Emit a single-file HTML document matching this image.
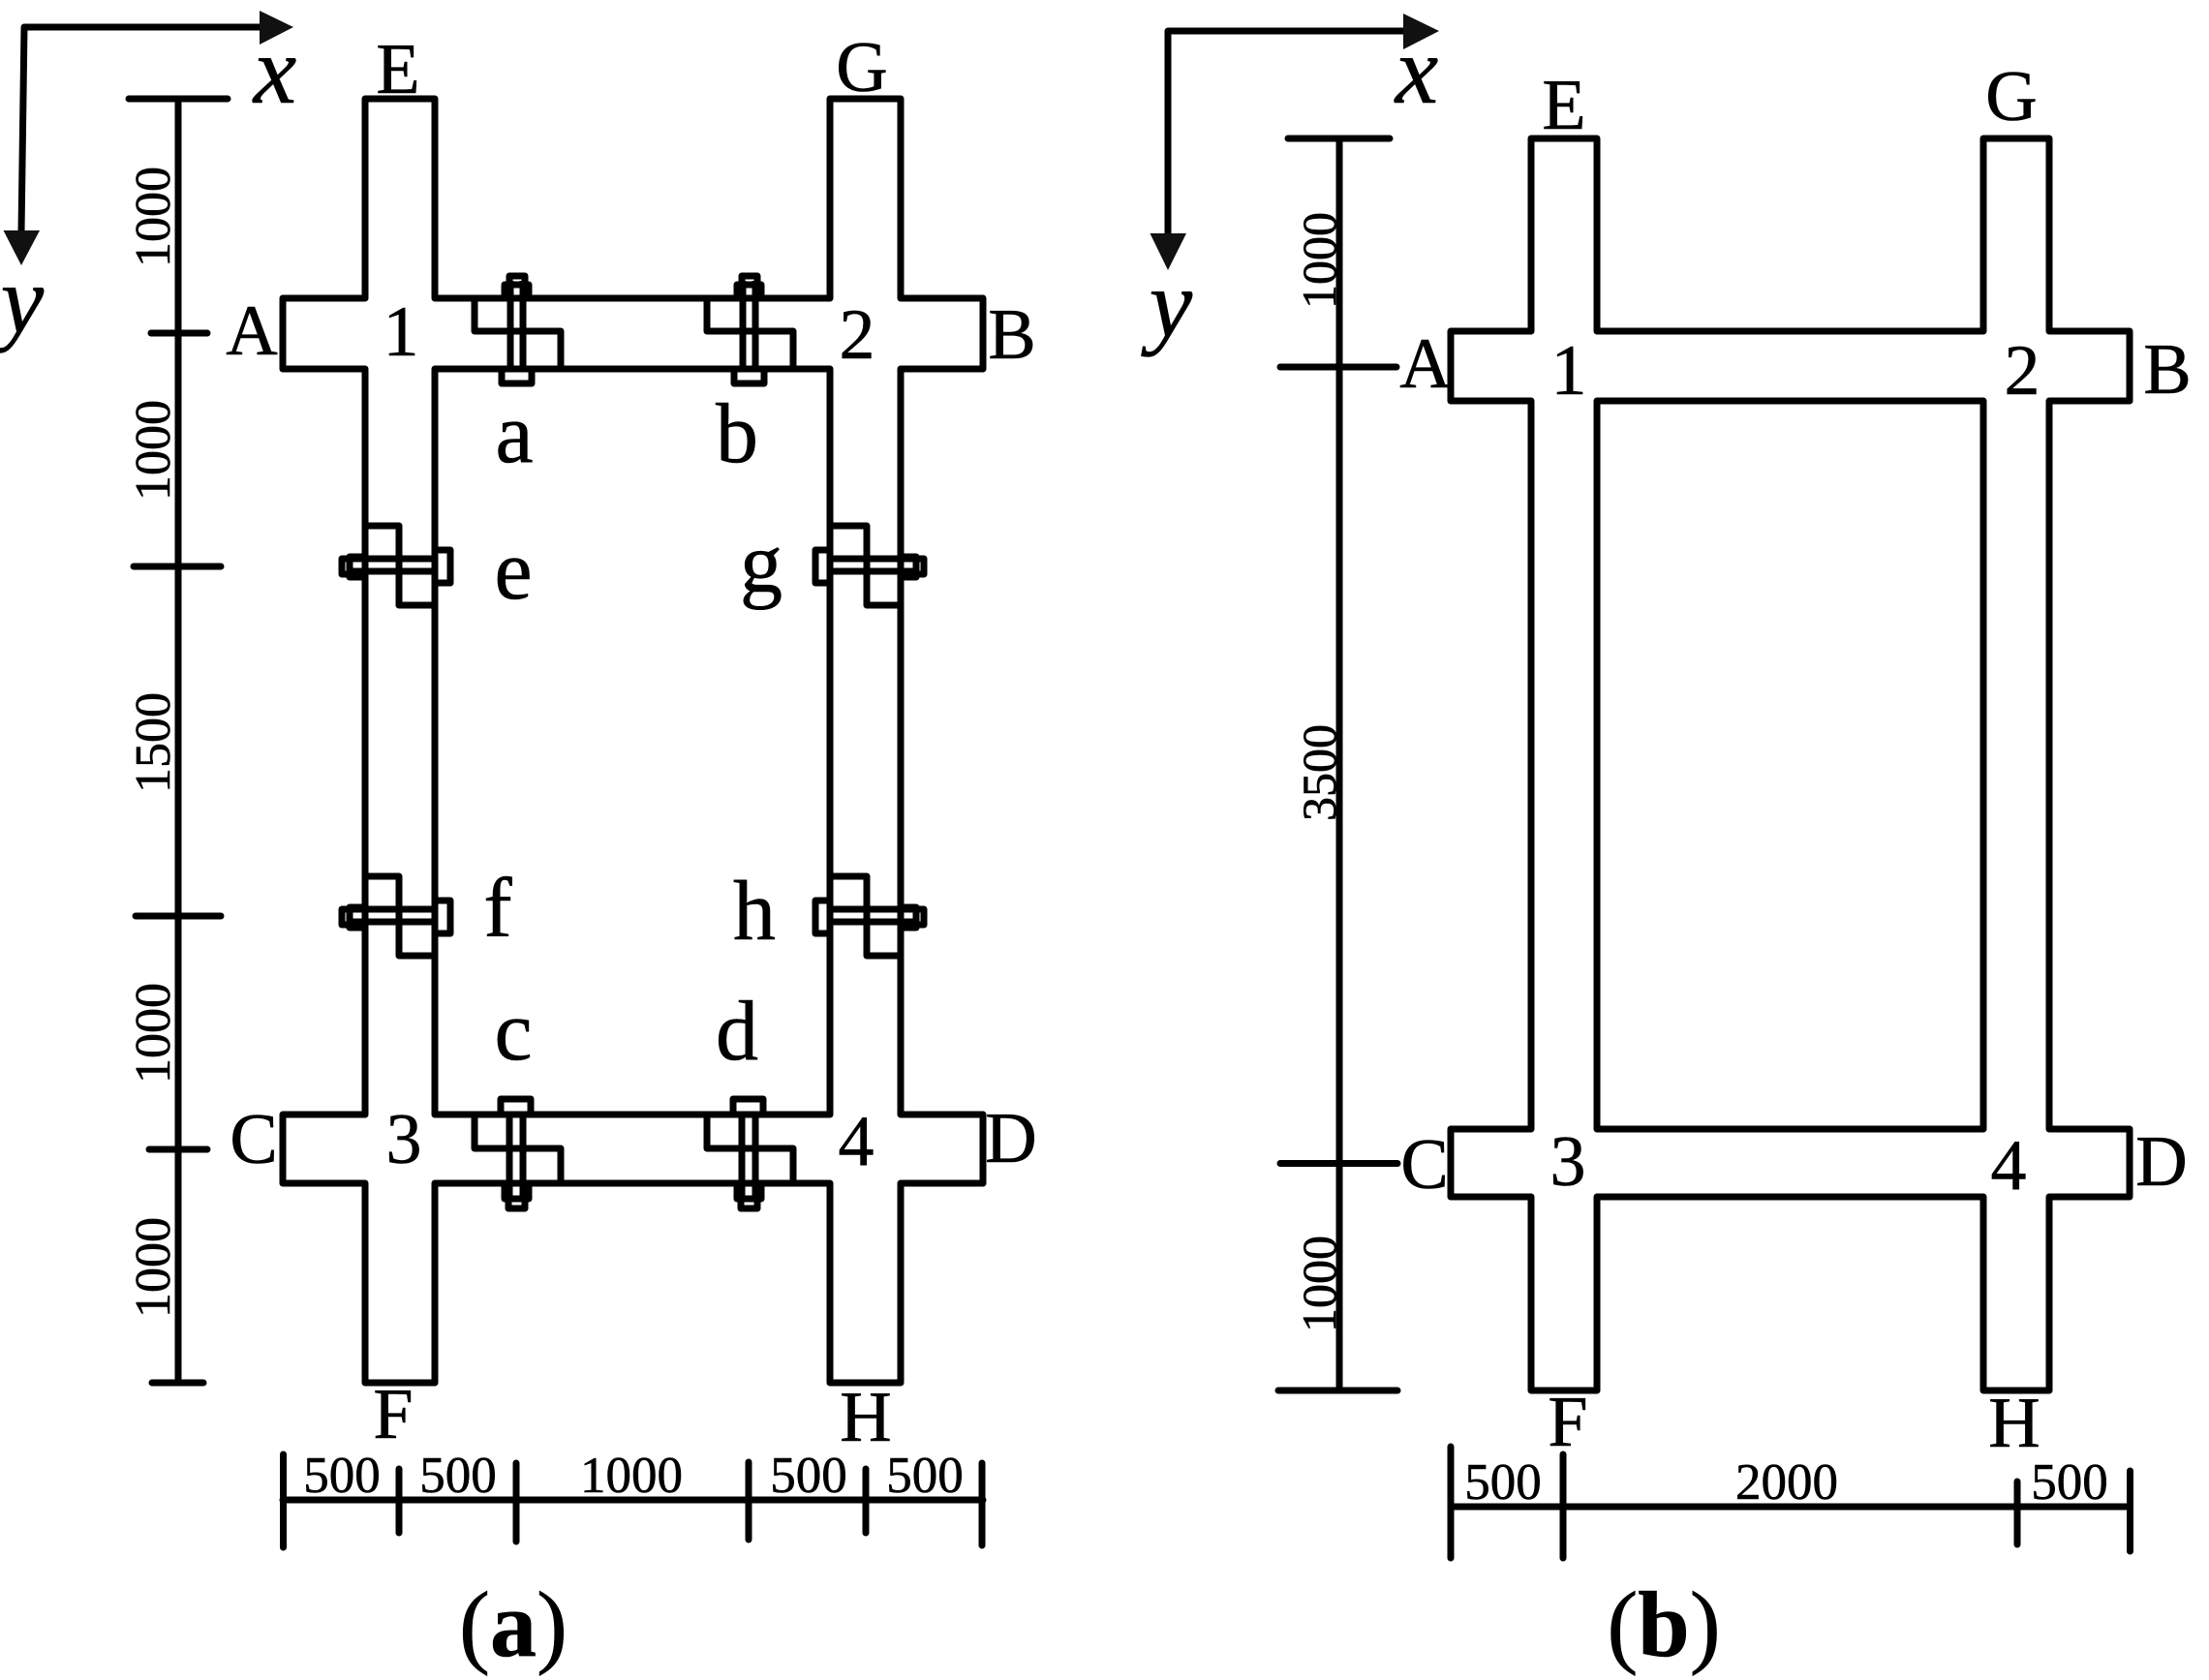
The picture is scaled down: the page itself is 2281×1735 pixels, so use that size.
<!DOCTYPE html>
<html><head><meta charset="utf-8"><title>Diagram</title>
<style>
html,body{margin:0;padding:0;background:#fff;width:2281px;height:1735px;overflow:hidden}
svg{display:block}
text{font-family:"Liberation Serif",serif;fill:#000;text-anchor:middle;stroke:#000;stroke-width:.6}
.l{font-size:74px}.s{font-size:88px}.d{font-size:53px}.v{font-size:52px}.w{font-size:50px}
.i{font-size:100px;font-style:italic}.c{font-size:96px}.c tspan{font-weight:bold}
.ln{fill:none;stroke:#000;stroke-width:7;stroke-linejoin:round}
.ar{fill:#111;stroke:none}
</style></head><body>
<svg width="2281" height="1735" viewBox="0 0 2281 1735" xmlns="http://www.w3.org/2000/svg">
<defs>
<g id="bt" class="ln"><path d="M490 308V342H579V381"/><path d="M527 290V381M540 290V381"/><path d="M518 381V396H549V381"/><path d="M521 308V294H546V308"/><path d="M526 292V285H542V292"/></g>
<g id="bb" class="ln"><path d="M490 1151V1186H579V1222"/><path d="M526 1151V1240M540 1151V1240"/><path d="M517 1151V1135H548V1151"/><path d="M521 1222V1238H546V1222"/><path d="M525 1240V1248H542V1240"/></g>
<g id="se" class="ln"><path d="M377 543H412V625H449"/><path d="M358 577H449M358 590H449"/><path d="M449 568H465V602H449"/><path d="M377 575H361V596H377"/><path d="M360 577H353V593H360"/></g>
<g id="sg" class="ln"><path d="M857 543H895V625H930"/><path d="M857 577H948M857 590H948"/><path d="M857 568H842V602H857"/><path d="M930 575H946V596H930"/><path d="M947 577H954V593H947"/></g>
</defs>

<!-- Panel a outline -->
<path class="ln" d="M377 102H449V308H857V102H930V308H1015V381H930V1151H1015V1222H930V1428H857V1222H449V1428H377V1222H292V1151H377V381H292V308H377Z"/>
<path class="ln" d="M449 381H857V1151H449Z"/>
<use href="#bt"/><use href="#bt" transform="translate(240 0)"/>
<use href="#bb"/><use href="#bb" transform="translate(240 0)"/>
<use href="#se"/><use href="#se" transform="translate(0 362)"/>
<use href="#sg"/><use href="#sg" transform="translate(0 362)"/>

<!-- Axes a -->
<path class="ln" d="M22 240L25 28H272"/>
<path class="ar" d="M268 11L303 28L268 46Z"/>
<path class="ar" d="M3.500 238H41L22 274Z"/>

<!-- Dim a vertical -->
<path class="ln" stroke-linecap="round" d="M184 102V1428M133 102H235M156 344H214M138 585H228M140 946H228M154 1187H214M157 1428H210"/>
<!-- Dim a horizontal -->
<path class="ln" stroke-linecap="round" d="M292 1549H1015M292.500 1502V1598M412 1517V1583M533 1511V1592M773 1510V1590M894 1517V1583M1014 1511V1596"/>

<!-- Panel a labels -->
<text class="l" x="411" y="96">E</text>
<text class="l" x="890" y="94">G</text>
<text class="i" x="284" y="106">x</text>
<text class="i" x="23" y="343">y</text>
<text class="l" x="260" y="366">A</text>
<text class="l" x="414" y="367">1</text>
<text class="l" x="885" y="370">2</text>
<text class="l" x="1045" y="370">B</text>
<text class="s" x="531" y="477">a</text>
<text class="s" x="761" y="477">b</text>
<text class="s" x="530" y="618">e</text>
<text class="s" x="786" y="611">g</text>
<text class="s" x="514" y="967">f</text>
<text class="s" x="779" y="970">h</text>
<text class="s" x="530" y="1094">c</text>
<text class="s" x="761" y="1094">d</text>
<text class="l" x="262" y="1201">C</text>
<text class="l" x="417" y="1201">3</text>
<text class="l" x="884" y="1203">4</text>
<text class="l" x="1044" y="1200">D</text>
<text class="l" x="406" y="1485">F</text>
<text class="l" x="894" y="1488">H</text>
<text class="d" x="353" y="1541">500</text>
<text class="d" x="473" y="1541">500</text>
<text class="d" x="652" y="1541">1000</text>
<text class="d" x="835" y="1541">500</text>
<text class="d" x="955" y="1541">500</text>
<text class="v" transform="translate(175 224) rotate(-90)">1000</text>
<text class="v" transform="translate(175 465) rotate(-90)">1000</text>
<text class="v" transform="translate(175 767) rotate(-90)">1500</text>
<text class="v" transform="translate(175 1067) rotate(-90)">1000</text>
<text class="v" transform="translate(175 1309) rotate(-90)">1000</text>
<text class="c" x="530" y="1710">(<tspan>a</tspan>)</text>

<!-- Panel b outline -->
<path class="ln" d="M1581 143H1649V342H2048V143H2116V342H2199V414H2116V1166H2199V1236H2116V1436H2048V1236H1649V1436H1581V1236H1498V1166H1581V414H1498V342H1581Z"/>
<path class="ln" d="M1649 414H2048V1166H1649Z"/>

<!-- Axes b -->
<path class="ln" d="M1206 245V32H1452"/>
<path class="ar" d="M1449 14L1486 32L1449 51Z"/>
<path class="ar" d="M1187.500 241H1225L1206 279Z"/>

<!-- Dim b vertical -->
<path class="ln" stroke-linecap="round" d="M1383 143V1436M1330 143H1435M1322 379H1442M1322 1201.500H1443M1320 1436H1443"/>
<!-- Dim b horizontal -->
<path class="ln" stroke-linecap="round" d="M1498 1556H2199M1498 1494V1609M1614 1502V1609M2083 1530V1595M2199.500 1519V1602"/>

<!-- Panel b labels -->
<text class="l" x="1615" y="133">E</text>
<text class="l" x="2077" y="124">G</text>
<text class="i" x="1463" y="106">x</text>
<text class="i" x="1209" y="347">y</text>
<text class="l" x="1472" y="400">A</text>
<text class="l" x="1620" y="407">1</text>
<text class="l" x="2088" y="407">2</text>
<text class="l" x="2238" y="406">B</text>
<text class="l" x="1471" y="1227">C</text>
<text class="l" x="1619" y="1224">3</text>
<text class="l" x="2074" y="1228">4</text>
<text class="l" x="2232" y="1224">D</text>
<text class="l" x="1619" y="1493">F</text>
<text class="l" x="2080" y="1494">H</text>
<text class="d" x="1552" y="1548">500</text>
<text class="d" x="1845" y="1548">2000</text>
<text class="d" x="2137" y="1548">500</text>
<text class="w" transform="translate(1379 269) rotate(-90)">1000</text>
<text class="w" transform="translate(1379 798) rotate(-90)">3500</text>
<text class="w" transform="translate(1379 1326) rotate(-90)">1000</text>
<text class="c" x="1718" y="1710">(<tspan>b</tspan>)</text>
</svg>
</body></html>
